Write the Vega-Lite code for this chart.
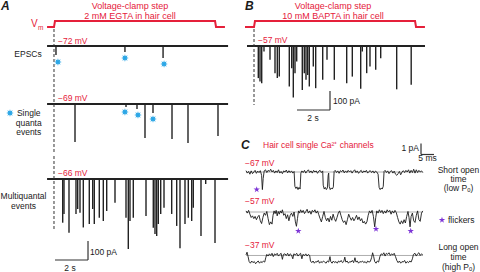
{
"$schema":"https://vega.github.io/schema/vega-lite/v6.json",
"padding":0,
"spacing":0,
"config":{"view":{"stroke":null},"axis":{"disable":true},"text":{"font":"Liberation Sans","baseline":"middle","fontSize":8.5,"color":"#1a1a1a"},"concat":{"spacing":0}},
"hconcat":[
{"spacing":0,"vconcat":[
{"width":240,"height":32,"layer":[
{"data":{"values":[{"t":-0.42,"v":0},{"t":0,"v":0},{"t":0.06,"v":1},{"t":9.76,"v":1},{"t":9.82,"v":0},{"t":10.36,"v":0}]},"mark":{"type":"line","color":"#e5203a","strokeWidth":2},"encoding":{"x":{"field":"t","type":"quantitative","scale":{"domain":[-3.2727,11.2727],"nice":false,"zero":false}},"y":{"field":"v","type":"quantitative","scale":{"domain":[-0.8333,4.5],"nice":false,"zero":false}}}},
{"data":{"values":[{"t":0,"v":-0.333,"v2":-0.8333}]},"mark":{"type":"rule","color":"#333333","strokeWidth":1,"strokeDash":[3,2]},"encoding":{"x":{"field":"t","type":"quantitative"},"y":{"field":"v","type":"quantitative"},"y2":{"field":"v2"}}},
{"data":{"values":[{"t":4.606,"v":3.5,"label":"Voltage-clamp step"},{"t":4.606,"v":1.833,"label":"2 mM EGTA in hair cell"}]},"mark":{"type":"text","color":"#e5203a","fontSize":9,"align":"center"},"encoding":{"x":{"field":"t","type":"quantitative"},"y":{"field":"v","type":"quantitative"},"text":{"field":"label"}}},
{"data":{"values":[{"t":-1.394,"v":0.5,"label":"V"}]},"mark":{"type":"text","color":"#e5203a","fontSize":10,"align":"left"},"encoding":{"x":{"field":"t","type":"quantitative"},"y":{"field":"v","type":"quantitative"},"text":{"field":"label"}}},
{"data":{"values":[{"t":-0.97,"v":-0.167,"label":"m"}]},"mark":{"type":"text","color":"#e5203a","fontSize":6.5,"align":"left"},"encoding":{"x":{"field":"t","type":"quantitative"},"y":{"field":"v","type":"quantitative"},"text":{"field":"label"}}},
{"data":{"values":[{"t":-3.212,"v":3.4167,"label":"A"}]},"mark":{"type":"text","fontSize":12,"fontWeight":"bold","fontStyle":"italic","align":"left"},"encoding":{"x":{"field":"t","type":"quantitative"},"y":{"field":"v","type":"quantitative"},"text":{"field":"label"}}}
]},
{"width":240,"height":48,"layer":[
{"data":{"values":[{"t":-0.42,"t2":10.55,"v":0}]},"mark":{"type":"rule","color":"#222222","strokeWidth":1.8},"encoding":{"x":{"field":"t","type":"quantitative","scale":{"domain":[-3.2727,11.2727],"nice":false,"zero":false}},"x2":{"field":"t2"},"y":{"field":"v","type":"quantitative","scale":{"domain":[-189.47,63.16],"nice":false,"zero":false}}}},
{"data":{"values":[{"t":0}]},"mark":{"type":"rule","color":"#333333","strokeWidth":1,"strokeDash":[3,2]},"encoding":{"x":{"field":"t","type":"quantitative"}}},
{"data":{"values":[{"t":0.12,"v":-47},{"t":4.3,"v":-32},{"t":6.61,"v":-63}]},"mark":{"type":"rule","color":"#222222","strokeWidth":1.4},"encoding":{"x":{"field":"t","type":"quantitative"},"y":{"field":"v","type":"quantitative"},"y2":{"datum":0}}},
{"data":{"values":[{"t":0.24,"v":-84.2},{"t":4.3,"v":-63.2},{"t":6.67,"v":-94.7}]},"mark":{"type":"point","shape":"M0,-1L0.191,-0.462L0.707,-0.707L0.462,-0.191L1,0L0.462,0.191L0.707,0.707L0.191,0.462L0,1L-0.191,0.462L-0.707,0.707L-0.462,0.191L-1,0L-0.462,-0.191L-0.707,-0.707L-0.191,-0.462Z","filled":true,"color":"#2aa6e6","size":56,"opacity":1},"encoding":{"x":{"field":"t","type":"quantitative"},"y":{"field":"v","type":"quantitative"}}},
{"data":{"values":[{"t":0.242,"v":26.3,"label":"−72 mV"}]},"mark":{"type":"text","color":"#e5203a","align":"left"},"encoding":{"x":{"field":"t","type":"quantitative"},"y":{"field":"v","type":"quantitative"},"text":{"field":"label"}}},
{"data":{"values":[{"t":-1.576,"v":-42.1,"label":"EPSCs"}]},"mark":{"type":"text","align":"center"},"encoding":{"x":{"field":"t","type":"quantitative"},"y":{"field":"v","type":"quantitative"},"text":{"field":"label"}}}
]},
{"width":240,"height":70,"layer":[
{"data":{"values":[{"t":-0.42,"t2":10.55,"v":0}]},"mark":{"type":"rule","color":"#222222","strokeWidth":1.8},"encoding":{"x":{"field":"t","type":"quantitative","scale":{"domain":[-3.2727,11.2727],"nice":false,"zero":false}},"x2":{"field":"t2"},"y":{"field":"v","type":"quantitative","scale":{"domain":[-263.16,105.26],"nice":false,"zero":false}}}},
{"data":{"values":[{"t":0}]},"mark":{"type":"rule","color":"#333333","strokeWidth":1,"strokeDash":[3,2]},"encoding":{"x":{"field":"t","type":"quantitative"}}},
{"data":{"values":[{"t":1.273,"v":-200},{"t":4.364,"v":-16},{"t":5.03,"v":-26},{"t":5.515,"v":-179},{"t":6.0,"v":-47},{"t":7.152,"v":-184},{"t":8.121,"v":-205},{"t":9.939,"v":-168}]},"mark":{"type":"rule","color":"#222222","strokeWidth":1.4},"encoding":{"x":{"field":"t","type":"quantitative"},"y":{"field":"v","type":"quantitative"},"y2":{"datum":0}}},
{"data":{"values":[{"t":4.3,"v":-42.1},{"t":5.09,"v":-57.9},{"t":6.0,"v":-78.9},{"t":-2.667,"v":-47.4}]},"mark":{"type":"point","shape":"M0,-1L0.191,-0.462L0.707,-0.707L0.462,-0.191L1,0L0.462,0.191L0.707,0.707L0.191,0.462L0,1L-0.191,0.462L-0.707,0.707L-0.462,0.191L-1,0L-0.462,-0.191L-0.707,-0.707L-0.191,-0.462Z","filled":true,"color":"#2aa6e6","size":56,"opacity":1},"encoding":{"x":{"field":"t","type":"quantitative"},"y":{"field":"v","type":"quantitative"}}},
{"data":{"values":[{"t":0.242,"v":31.6,"label":"−69 mV"}]},"mark":{"type":"text","color":"#e5203a","align":"left"},"encoding":{"x":{"field":"t","type":"quantitative"},"y":{"field":"v","type":"quantitative"},"text":{"field":"label"}}},
{"data":{"values":[{"t":-1.533,"v":-47.4,"label":"Single"},{"t":-1.533,"v":-97.4,"label":"quanta"},{"t":-1.533,"v":-147.4,"label":"events"}]},"mark":{"type":"text","align":"center"},"encoding":{"x":{"field":"t","type":"quantitative"},"y":{"field":"v","type":"quantitative"},"text":{"field":"label"}}}
]},
{"width":240,"height":122,"layer":[
{"data":{"values":[{"t":-0.42,"t2":10.55,"v":0}]},"mark":{"type":"rule","color":"#222222","strokeWidth":1.8},"encoding":{"x":{"field":"t","type":"quantitative","scale":{"domain":[-3.2727,11.2727],"nice":false,"zero":false}},"x2":{"field":"t2"},"y":{"field":"v","type":"quantitative","scale":{"domain":[-521.05,121.05],"nice":false,"zero":false}}}},
{"data":{"values":[{"t":0,"v":121.05,"v2":-268.4}]},"mark":{"type":"rule","color":"#333333","strokeWidth":1,"strokeDash":[3,2]},"encoding":{"x":{"field":"t","type":"quantitative"},"y":{"field":"v","type":"quantitative"},"y2":{"field":"v2"}}},
{"data":{"values":[{"t":0.527,"v":-230},{"t":0.606,"v":-184},{"t":0.909,"v":-283},{"t":1.333,"v":-184},{"t":1.436,"v":-158},{"t":1.576,"v":-177},{"t":1.776,"v":-255},{"t":2.139,"v":-237},{"t":2.345,"v":-158},{"t":2.442,"v":-237},{"t":2.745,"v":-204},{"t":2.988,"v":-221},{"t":3.194,"v":-168},{"t":3.697,"v":-125},{"t":4.364,"v":-204},{"t":4.503,"v":-368},{"t":4.606,"v":-221},{"t":4.806,"v":-204},{"t":5.576,"v":-195},{"t":6.018,"v":-256},{"t":6.121,"v":-289},{"t":6.224,"v":-300},{"t":6.321,"v":-237},{"t":6.467,"v":-184},{"t":6.667,"v":-151},{"t":7.133,"v":-184},{"t":7.436,"v":-247},{"t":7.636,"v":-365},{"t":7.939,"v":-237},{"t":8.139,"v":-204},{"t":8.345,"v":-221},{"t":8.442,"v":-151},{"t":8.909,"v":-300},{"t":9.194,"v":-26},{"t":9.758,"v":-337}]},"mark":{"type":"rule","color":"#222222","strokeWidth":1.4},"encoding":{"x":{"field":"t","type":"quantitative"},"y":{"field":"v","type":"quantitative"},"y2":{"datum":0}}},
{"data":{"values":[{"t":0.0606,"t2":2.061,"v":-426.3,"v2":-426.3},{"t":2.061,"t2":2.061,"v":-326.3,"v2":-426.3}]},"mark":{"type":"rule","color":"#333333","strokeWidth":1.2},"encoding":{"x":{"field":"t","type":"quantitative"},"x2":{"field":"t2"},"y":{"field":"v","type":"quantitative"},"y2":{"field":"v2"}}},
{"data":{"values":[{"t":0.242,"v":31.6,"label":"−66 mV"}]},"mark":{"type":"text","color":"#e5203a","align":"left"},"encoding":{"x":{"field":"t","type":"quantitative"},"y":{"field":"v","type":"quantitative"},"text":{"field":"label"}}},
{"data":{"values":[{"t":-1.848,"v":-91,"label":"Multiquantal"},{"t":-1.848,"v":-143.7,"label":"events"},{"t":0.97,"v":-468.4,"label":"2 s"}]},"mark":{"type":"text","align":"center"},"encoding":{"x":{"field":"t","type":"quantitative"},"y":{"field":"v","type":"quantitative"},"text":{"field":"label"}}},
{"data":{"values":[{"t":2.18,"v":-384.2,"label":"100 pA"}]},"mark":{"type":"text","align":"left"},"encoding":{"x":{"field":"t","type":"quantitative"},"y":{"field":"v","type":"quantitative"},"text":{"field":"label"}}}
]}
]},
{"spacing":0,"vconcat":[
{"width":240,"height":32,"layer":[
{"data":{"values":[{"t":-0.545,"v":0},{"t":0,"v":0},{"t":0.06,"v":1},{"t":9.76,"v":1},{"t":9.82,"v":0},{"t":10.36,"v":0}]},"mark":{"type":"line","color":"#e5203a","strokeWidth":2},"encoding":{"x":{"field":"t","type":"quantitative","scale":{"domain":[-0.8485,13.697],"nice":false,"zero":false}},"y":{"field":"v","type":"quantitative","scale":{"domain":[-0.8333,4.5],"nice":false,"zero":false}}}},
{"data":{"values":[{"t":0,"v":-0.333,"v2":-0.8333}]},"mark":{"type":"rule","color":"#333333","strokeWidth":1,"strokeDash":[3,2]},"encoding":{"x":{"field":"t","type":"quantitative"},"y":{"field":"v","type":"quantitative"},"y2":{"field":"v2"}}},
{"data":{"values":[{"t":4.788,"v":3.5,"label":"Voltage-clamp step"},{"t":4.788,"v":1.833,"label":"10 mM BAPTA in hair cell"}]},"mark":{"type":"text","color":"#e5203a","fontSize":9,"align":"center"},"encoding":{"x":{"field":"t","type":"quantitative"},"y":{"field":"v","type":"quantitative"},"text":{"field":"label"}}},
{"data":{"values":[{"t":-0.545,"v":3.4167,"label":"B"}]},"mark":{"type":"text","fontSize":12,"fontWeight":"bold","fontStyle":"italic","align":"left"},"encoding":{"x":{"field":"t","type":"quantitative"},"y":{"field":"v","type":"quantitative"},"text":{"field":"label"}}}
]},
{"width":240,"height":98,"layer":[
{"data":{"values":[{"t":-0.424,"t2":10.364,"v":0}]},"mark":{"type":"rule","color":"#222222","strokeWidth":1.8},"encoding":{"x":{"field":"t","type":"quantitative","scale":{"domain":[-0.8485,13.697],"nice":false,"zero":false}},"x2":{"field":"t2"},"y":{"field":"v","type":"quantitative","scale":{"domain":[-452.6,63.16],"nice":false,"zero":false}}}},
{"data":{"values":[{"t":0,"v":63.16,"v2":-310.5}]},"mark":{"type":"rule","color":"#333333","strokeWidth":1,"strokeDash":[3,2]},"encoding":{"x":{"field":"t","type":"quantitative"},"y":{"field":"v","type":"quantitative"},"y2":{"field":"v2"}}},
{"data":{"values":[{"t":0.261,"v":-169},{"t":0.364,"v":-187},{"t":0.467,"v":-196},{"t":0.606,"v":-29},{"t":0.97,"v":-73},{"t":1.273,"v":-143},{"t":1.412,"v":-169},{"t":1.533,"v":-161},{"t":2.139,"v":-213},{"t":2.285,"v":-117},{"t":2.382,"v":-271},{"t":2.485,"v":-143},{"t":2.588,"v":-82},{"t":2.927,"v":-231},{"t":3.048,"v":-143},{"t":3.152,"v":-178},{"t":3.255,"v":-152},{"t":3.352,"v":-213},{"t":3.594,"v":-108},{"t":3.739,"v":-222},{"t":4.164,"v":-178},{"t":4.424,"v":-73},{"t":4.867,"v":-178},{"t":5.618,"v":-196},{"t":5.958,"v":-161},{"t":6.467,"v":-225},{"t":6.564,"v":-29},{"t":6.83,"v":-143},{"t":7.03,"v":-108},{"t":7.376,"v":-125},{"t":7.679,"v":-64},{"t":8.648,"v":-228},{"t":9.527,"v":-204}]},"mark":{"type":"rule","color":"#222222","strokeWidth":1.4},"encoding":{"x":{"field":"t","type":"quantitative"},"y":{"field":"v","type":"quantitative"},"y2":{"datum":0}}},
{"data":{"values":[{"t":2.606,"t2":4.606,"v":-336.8,"v2":-336.8},{"t":4.606,"t2":4.606,"v":-236.8,"v2":-336.8}]},"mark":{"type":"rule","color":"#333333","strokeWidth":1.2},"encoding":{"x":{"field":"t","type":"quantitative"},"x2":{"field":"t2"},"y":{"field":"v","type":"quantitative"},"y2":{"field":"v2"}}},
{"data":{"values":[{"t":0.242,"v":31.6,"label":"−57 mV"}]},"mark":{"type":"text","color":"#e5203a","align":"left"},"encoding":{"x":{"field":"t","type":"quantitative"},"y":{"field":"v","type":"quantitative"},"text":{"field":"label"}}},
{"data":{"values":[{"t":3.576,"v":-378.9,"label":"2 s"}]},"mark":{"type":"text","align":"center"},"encoding":{"x":{"field":"t","type":"quantitative"},"y":{"field":"v","type":"quantitative"},"text":{"field":"label"}}},
{"data":{"values":[{"t":4.79,"v":-289.5,"label":"100 pA"}]},"mark":{"type":"text","align":"left"},"encoding":{"x":{"field":"t","type":"quantitative"},"y":{"field":"v","type":"quantitative"},"text":{"field":"label"}}}
]},
{"width":240,"height":62,"layer":[
{"data":{"values":[{"t":0,"t2":68,"v":0}]},"mark":{"type":"rule","color":"#9a9a9a","strokeWidth":0.8},"encoding":{"x":{"field":"t","type":"quantitative","scale":{"domain":[-2.3077,90],"nice":false,"zero":false}},"x2":{"field":"t2"},"y":{"field":"v","type":"quantitative","scale":{"domain":[-2.0,3.6364],"nice":false,"zero":false}}}},
{"data":{"values":[{"t":0,"v":0.12},{"t":0.5,"v":-0.1},{"t":1,"v":0.05},{"t":1.5,"v":-0.2},{"t":2,"v":0.1},{"t":2.5,"v":-0.15},{"t":3,"v":0},{"t":3.5,"v":0.15},{"t":4,"v":-0.12},{"t":4.5,"v":0.08},{"t":5,"v":-0.05},{"t":5.5,"v":0.12},{"t":6,"v":-0.3},{"t":6.3,"v":-1.6},{"t":6.6,"v":-0.6},{"t":7,"v":0.1},{"t":7.5,"v":0.2},{"t":8,"v":-0.05},{"t":8.5,"v":0.15},{"t":9,"v":0.05},{"t":9.5,"v":0.25},{"t":10,"v":0},{"t":10.5,"v":0.15},{"t":11,"v":-0.1},{"t":11.5,"v":0.1},{"t":12,"v":-0.05},{"t":12.5,"v":0.2},{"t":13,"v":-0.1},{"t":13.5,"v":0.05},{"t":14,"v":-0.15},{"t":14.5,"v":0.1},{"t":15,"v":0},{"t":15.5,"v":0.18},{"t":16,"v":-0.08},{"t":16.5,"v":0.12},{"t":17,"v":-0.05},{"t":17.5,"v":0.1},{"t":18,"v":-0.1},{"t":18.5,"v":0.05},{"t":18.8,"v":-1.3},{"t":19.2,"v":-1.5},{"t":19.6,"v":-1.35},{"t":20,"v":-1.6},{"t":20.4,"v":-1.4},{"t":20.8,"v":-1.55},{"t":21.1,"v":-0.1},{"t":21.5,"v":0.1},{"t":22,"v":-0.05},{"t":22.5,"v":0.15},{"t":23,"v":-0.1},{"t":23.5,"v":0.08},{"t":24,"v":0.2},{"t":24.5,"v":-0.05},{"t":25,"v":0.1},{"t":25.5,"v":-0.1},{"t":26,"v":0.15},{"t":26.5,"v":0},{"t":27,"v":0.1},{"t":27.5,"v":-0.12},{"t":28,"v":0.08},{"t":28.5,"v":0.15},{"t":29,"v":-0.05},{"t":29.5,"v":0.1},{"t":29.7,"v":-1.2},{"t":30.1,"v":-1.55},{"t":30.5,"v":-1.4},{"t":30.9,"v":-1.6},{"t":31.3,"v":-1.45},{"t":31.6,"v":-0.3},{"t":31.8,"v":-0.1},{"t":32,"v":-1.3},{"t":32.4,"v":-1.6},{"t":32.8,"v":-1.45},{"t":33.2,"v":-1.55},{"t":33.6,"v":-1.35},{"t":33.9,"v":0.05},{"t":34.3,"v":0.15},{"t":34.8,"v":-0.05},{"t":35.3,"v":0.1},{"t":35.8,"v":-0.12},{"t":36.3,"v":0.12},{"t":36.8,"v":0.02},{"t":37.3,"v":0.18},{"t":37.8,"v":-0.08},{"t":38.3,"v":0.1},{"t":38.8,"v":-0.05},{"t":39.3,"v":0.15},{"t":39.8,"v":0},{"t":40.3,"v":0.12},{"t":40.8,"v":-0.1},{"t":41.3,"v":0.08},{"t":41.8,"v":0.2},{"t":42.3,"v":-0.05},{"t":42.8,"v":0.1},{"t":43.3,"v":-0.12},{"t":43.8,"v":0.05},{"t":44.3,"v":0.15},{"t":44.8,"v":-0.08},{"t":45.3,"v":0.1},{"t":45.8,"v":0},{"t":46.3,"v":0.15},{"t":46.8,"v":-0.1},{"t":47.3,"v":0.05},{"t":47.8,"v":0.12},{"t":48.3,"v":-0.05},{"t":48.8,"v":0.1},{"t":49.3,"v":-0.1},{"t":49.8,"v":0.08},{"t":50.3,"v":0},{"t":50.8,"v":-0.2},{"t":51.2,"v":-1.4},{"t":51.6,"v":-1.6},{"t":52,"v":-1.45},{"t":52.4,"v":-1.55},{"t":52.8,"v":-1.3},{"t":53.1,"v":0.05},{"t":53.5,"v":0.15},{"t":54,"v":-0.05},{"t":54.5,"v":0.1},{"t":55,"v":-0.15},{"t":55.5,"v":0.05},{"t":56,"v":0.12},{"t":56.5,"v":-0.1},{"t":57,"v":0.08},{"t":57.5,"v":-0.2},{"t":58,"v":-0.3},{"t":58.5,"v":-0.15},{"t":59,"v":0.05},{"t":59.5,"v":-0.25},{"t":60,"v":0},{"t":60.5,"v":0.12},{"t":61,"v":-0.05},{"t":61.5,"v":0.15},{"t":62,"v":0},{"t":62.5,"v":0.2},{"t":63,"v":-0.1},{"t":63.5,"v":0.15},{"t":64,"v":-0.05},{"t":64.5,"v":0.25},{"t":65,"v":-0.1},{"t":65.5,"v":0.2},{"t":66,"v":-0.05},{"t":66.5,"v":0.15},{"t":67,"v":0},{"t":67.5,"v":0.1},{"t":68,"v":-0.05}]},"mark":{"type":"line","color":"#1a1a1a","strokeWidth":0.9},"encoding":{"x":{"field":"t","type":"quantitative"},"y":{"field":"v","type":"quantitative"}}},
{"data":{"values":[{"t":67.31,"t2":72.31,"v":1.591,"v2":1.591},{"t":67.31,"t2":67.31,"v":2.591,"v2":1.591}]},"mark":{"type":"rule","color":"#333333","strokeWidth":1.2},"encoding":{"x":{"field":"t","type":"quantitative"},"x2":{"field":"t2"},"y":{"field":"v","type":"quantitative"},"y2":{"field":"v2"}}},
{"data":{"values":[{"t":4.115,"v":-1.591}]},"mark":{"type":"point","shape":"M0,-1L0.2245,-0.309L0.9511,-0.309L0.3633,0.118L0.5878,0.809L0,0.382L-0.5878,0.809L-0.3633,0.118L-0.9511,-0.309L-0.2245,-0.309Z","filled":true,"color":"#7d35d6","size":45,"opacity":1},"encoding":{"x":{"field":"t","type":"quantitative"},"y":{"field":"v","type":"quantitative"}}},
{"data":{"values":[{"t":-1.923,"v":2.4545,"label":"C"}]},"mark":{"type":"text","fontSize":12,"fontWeight":"bold","fontStyle":"italic","align":"left"},"encoding":{"x":{"field":"t","type":"quantitative"},"y":{"field":"v","type":"quantitative"},"text":{"field":"label"}}},
{"data":{"values":[{"t":6.538,"v":2.4545,"label":"Hair cell single Ca²⁺ channels"},{"t":-0.385,"v":0.818,"label":"−67 mV"}]},"mark":{"type":"text","color":"#e5203a","align":"left"},"encoding":{"x":{"field":"t","type":"quantitative"},"y":{"field":"v","type":"quantitative"},"text":{"field":"label"}}},
{"data":{"values":[{"t":66.54,"v":2.1818,"label":"1 pA"}]},"mark":{"type":"text","align":"right"},"encoding":{"x":{"field":"t","type":"quantitative"},"y":{"field":"v","type":"quantitative"},"text":{"field":"label"}}},
{"data":{"values":[{"t":69.81,"v":1.318,"label":"5 ms"},{"t":81.73,"v":0.227,"label":"Short open"},{"t":81.73,"v":-0.636,"label":"time"},{"t":81.73,"v":-1.4545,"label":"(low Pₒ)"}]},"mark":{"type":"text","align":"center"},"encoding":{"x":{"field":"t","type":"quantitative"},"y":{"field":"v","type":"quantitative"},"text":{"field":"label"}}}
]},
{"width":240,"height":42,"layer":[
{"data":{"values":[{"t":0,"t2":68,"v":0}]},"mark":{"type":"rule","color":"#9a9a9a","strokeWidth":0.8},"encoding":{"x":{"field":"t","type":"quantitative","scale":{"domain":[-2.3077,90],"nice":false,"zero":false}},"x2":{"field":"t2"},"y":{"field":"v","type":"quantitative","scale":{"domain":[-2.1818,1.6364],"nice":false,"zero":false}}}},
{"data":{"values":[{"t":0,"v":0.1},{"t":0.5,"v":-0.1},{"t":1,"v":0.15},{"t":1.5,"v":-0.2},{"t":2,"v":-0.5},{"t":2.5,"v":-0.35},{"t":3,"v":-0.6},{"t":3.5,"v":-0.4},{"t":4,"v":-0.7},{"t":4.5,"v":-0.45},{"t":5,"v":-0.3},{"t":5.5,"v":-0.8},{"t":6,"v":-1.05},{"t":6.5,"v":-0.5},{"t":7,"v":-0.1},{"t":7.5,"v":-0.3},{"t":8,"v":0.05},{"t":8.5,"v":-0.6},{"t":9,"v":-1.15},{"t":9.5,"v":-0.9},{"t":10,"v":-1.1},{"t":10.4,"v":-0.3},{"t":10.8,"v":0.1},{"t":11.2,"v":-0.15},{"t":11.6,"v":0.15},{"t":12,"v":-0.35},{"t":12.4,"v":0.05},{"t":12.8,"v":-0.2},{"t":13.2,"v":0.1},{"t":13.6,"v":-0.1},{"t":14,"v":0.2},{"t":14.5,"v":-0.3},{"t":15,"v":-0.15},{"t":15.5,"v":-0.6},{"t":16,"v":-0.25},{"t":16.5,"v":-0.8},{"t":17,"v":-0.3},{"t":17.5,"v":-0.1},{"t":18,"v":-0.4},{"t":18.5,"v":0},{"t":19,"v":-0.9},{"t":19.4,"v":-1.3},{"t":19.8,"v":-0.6},{"t":20.2,"v":0.1},{"t":20.6,"v":-0.1},{"t":21,"v":0.2},{"t":21.5,"v":-0.05},{"t":22,"v":0.15},{"t":22.5,"v":-0.15},{"t":23,"v":0.05},{"t":23.5,"v":0.25},{"t":24,"v":-0.1},{"t":24.5,"v":0.1},{"t":25,"v":-0.2},{"t":25.5,"v":0.15},{"t":26,"v":0},{"t":26.5,"v":0.2},{"t":27,"v":-0.1},{"t":27.5,"v":0.1},{"t":28,"v":-0.25},{"t":28.5,"v":-0.6},{"t":29,"v":-0.9},{"t":29.5,"v":-0.4},{"t":30,"v":0.05},{"t":30.5,"v":-0.5},{"t":31,"v":-0.8},{"t":31.5,"v":-0.55},{"t":32,"v":-0.9},{"t":32.5,"v":-0.4},{"t":33,"v":-0.75},{"t":33.5,"v":-0.2},{"t":34,"v":-0.6},{"t":34.5,"v":-0.85},{"t":35,"v":-0.5},{"t":35.5,"v":-0.1},{"t":36,"v":0.1},{"t":36.5,"v":-0.3},{"t":37,"v":-0.7},{"t":37.5,"v":-0.95},{"t":38,"v":-0.8},{"t":38.5,"v":-1.15},{"t":39,"v":-0.7},{"t":39.5,"v":-0.2},{"t":40,"v":-0.5},{"t":40.5,"v":-0.75},{"t":41,"v":-0.5},{"t":41.5,"v":-0.8},{"t":42,"v":-0.6},{"t":42.5,"v":-0.3},{"t":43,"v":-0.7},{"t":43.5,"v":-0.45},{"t":44,"v":-0.8},{"t":44.5,"v":-0.6},{"t":45,"v":-1.0},{"t":45.5,"v":-0.85},{"t":46,"v":-1.1},{"t":46.5,"v":-0.9},{"t":47,"v":-0.3},{"t":47.5,"v":0.1},{"t":48,"v":-0.1},{"t":48.5,"v":0.15},{"t":49,"v":-0.4},{"t":49.5,"v":-1.35},{"t":49.9,"v":-0.5},{"t":50.3,"v":0.1},{"t":50.8,"v":-0.1},{"t":51.3,"v":0.2},{"t":51.8,"v":-0.05},{"t":52.3,"v":0.15},{"t":52.8,"v":-0.15},{"t":53.3,"v":0.1},{"t":53.8,"v":-0.1},{"t":54.3,"v":0.2},{"t":54.8,"v":0},{"t":55.3,"v":0.15},{"t":55.8,"v":-0.2},{"t":56.3,"v":0.1},{"t":56.8,"v":-0.1},{"t":57.3,"v":0.15},{"t":57.8,"v":-0.05},{"t":58.3,"v":-0.5},{"t":58.8,"v":-0.9},{"t":59.3,"v":-1.1},{"t":59.8,"v":-0.8},{"t":60.3,"v":-1.05},{"t":60.8,"v":-0.7},{"t":61.3,"v":-1.0},{"t":61.8,"v":-0.4},{"t":62.3,"v":0.05},{"t":62.7,"v":-0.5},{"t":63.1,"v":-1.35},{"t":63.5,"v":-0.4},{"t":64,"v":-0.1},{"t":64.5,"v":-0.8},{"t":65,"v":-0.95},{"t":65.5,"v":-0.3},{"t":66,"v":0.1},{"t":66.5,"v":-0.7},{"t":67,"v":-0.85},{"t":67.5,"v":-0.1},{"t":68,"v":0.1}]},"mark":{"type":"line","color":"#1a1a1a","strokeWidth":0.9},"encoding":{"x":{"field":"t","type":"quantitative"},"y":{"field":"v","type":"quantitative"}}},
{"data":{"values":[{"t":20.12,"v":-1.727},{"t":50,"v":-1.545},{"t":63.35,"v":-1.727},{"t":75.38,"v":-0.727}]},"mark":{"type":"point","shape":"M0,-1L0.2245,-0.309L0.9511,-0.309L0.3633,0.118L0.5878,0.809L0,0.382L-0.5878,0.809L-0.3633,0.118L-0.9511,-0.309L-0.2245,-0.309Z","filled":true,"color":"#7d35d6","size":45,"opacity":1},"encoding":{"x":{"field":"t","type":"quantitative"},"y":{"field":"v","type":"quantitative"}}},
{"data":{"values":[{"t":-0.385,"v":1.045,"label":"−57 mV"}]},"mark":{"type":"text","color":"#e5203a","align":"left"},"encoding":{"x":{"field":"t","type":"quantitative"},"y":{"field":"v","type":"quantitative"},"text":{"field":"label"}}},
{"data":{"values":[{"t":77.69,"v":-0.727,"label":"flickers"}]},"mark":{"type":"text","align":"left"},"encoding":{"x":{"field":"t","type":"quantitative"},"y":{"field":"v","type":"quantitative"},"text":{"field":"label"}}}
]},
{"width":240,"height":38,"layer":[
{"data":{"values":[{"t":0,"t2":68,"v":0}]},"mark":{"type":"rule","color":"#9a9a9a","strokeWidth":0.8},"encoding":{"x":{"field":"t","type":"quantitative","scale":{"domain":[-2.3077,90],"nice":false,"zero":false}},"x2":{"field":"t2"},"y":{"field":"v","type":"quantitative","scale":{"domain":[-1.6818,1.7727],"nice":false,"zero":false}}}},
{"data":{"values":[{"t":0,"v":0.05},{"t":0.4,"v":0.3},{"t":0.8,"v":-0.1},{"t":1.2,"v":-0.55},{"t":1.7,"v":-0.7},{"t":2.2,"v":-0.5},{"t":2.7,"v":-0.65},{"t":3.2,"v":-0.55},{"t":3.7,"v":-0.75},{"t":4.2,"v":-0.6},{"t":4.7,"v":-0.5},{"t":5.2,"v":-0.7},{"t":5.7,"v":-0.55},{"t":6.2,"v":-0.65},{"t":6.7,"v":-0.5},{"t":7.2,"v":-0.6},{"t":7.6,"v":-0.2},{"t":8,"v":0.1},{"t":8.5,"v":-0.05},{"t":9,"v":0.15},{"t":9.5,"v":0},{"t":10,"v":0.2},{"t":10.5,"v":-0.1},{"t":11,"v":0.15},{"t":11.5,"v":0.05},{"t":12,"v":0.2},{"t":12.5,"v":-0.05},{"t":13,"v":0.1},{"t":13.5,"v":0.2},{"t":14,"v":-0.35},{"t":14.4,"v":0.1},{"t":15,"v":0.15},{"t":15.5,"v":0},{"t":16,"v":0.2},{"t":16.5,"v":-0.05},{"t":17,"v":0.15},{"t":17.5,"v":0.05},{"t":18,"v":-0.3},{"t":18.4,"v":0.15},{"t":19,"v":0.05},{"t":19.5,"v":0.2},{"t":20,"v":-0.05},{"t":20.5,"v":0.1},{"t":21,"v":0.2},{"t":21.5,"v":-0.3},{"t":21.9,"v":0.1},{"t":22.5,"v":0},{"t":23,"v":0.15},{"t":23.5,"v":-0.05},{"t":24,"v":0.1},{"t":24.5,"v":0},{"t":24.8,"v":-0.5},{"t":25.3,"v":-0.65},{"t":25.8,"v":-0.5},{"t":26.3,"v":-0.7},{"t":26.8,"v":-0.55},{"t":27.3,"v":-0.6},{"t":27.8,"v":-0.45},{"t":28.3,"v":-0.7},{"t":28.8,"v":-0.55},{"t":29.3,"v":-0.65},{"t":29.8,"v":-0.5},{"t":30.3,"v":-0.6},{"t":30.8,"v":-0.7},{"t":31.3,"v":-0.5},{"t":31.8,"v":-0.6},{"t":32.3,"v":-0.1},{"t":32.6,"v":-0.55},{"t":33.1,"v":-0.7},{"t":33.6,"v":-0.5},{"t":34.1,"v":-0.65},{"t":34.6,"v":-0.55},{"t":35.1,"v":-0.7},{"t":35.6,"v":-0.5},{"t":36.1,"v":-0.6},{"t":36.6,"v":-0.45},{"t":37.1,"v":-0.65},{"t":37.6,"v":-0.55},{"t":38,"v":-0.15},{"t":38.4,"v":-0.6},{"t":38.9,"v":-0.5},{"t":39.4,"v":-0.7},{"t":39.9,"v":-0.55},{"t":40.4,"v":-0.6},{"t":40.9,"v":-0.45},{"t":41.4,"v":-0.65},{"t":41.9,"v":-0.2},{"t":42.3,"v":-0.6},{"t":42.8,"v":-0.5},{"t":43.3,"v":-0.7},{"t":43.8,"v":-0.55},{"t":44.3,"v":-0.6},{"t":44.8,"v":-0.5},{"t":45.3,"v":-0.65},{"t":45.8,"v":-0.55},{"t":46.3,"v":-0.7},{"t":46.8,"v":-0.5},{"t":47.3,"v":-0.6},{"t":47.8,"v":-0.55},{"t":48.3,"v":-0.2},{"t":48.7,"v":0.25},{"t":49.1,"v":-0.1},{"t":49.5,"v":-0.55},{"t":50,"v":-0.7},{"t":50.5,"v":-0.5},{"t":51,"v":-0.6},{"t":51.5,"v":-0.1},{"t":52,"v":0.15},{"t":52.5,"v":0.05},{"t":53,"v":0.25},{"t":53.5,"v":-0.05},{"t":54,"v":0.2},{"t":54.5,"v":0.1},{"t":55,"v":0.25},{"t":55.5,"v":0},{"t":56,"v":0.15},{"t":56.5,"v":0.05},{"t":57,"v":0.2},{"t":57.5,"v":-0.1},{"t":58,"v":-0.45},{"t":58.5,"v":-0.65},{"t":59,"v":-0.5},{"t":59.5,"v":-0.7},{"t":60,"v":-0.55},{"t":60.5,"v":-0.6},{"t":61,"v":-0.45},{"t":61.5,"v":-0.7},{"t":62,"v":-0.55},{"t":62.5,"v":-0.65},{"t":63,"v":-0.5},{"t":63.5,"v":-0.6},{"t":64,"v":-0.3},{"t":64.4,"v":0.1},{"t":65,"v":0.2},{"t":65.5,"v":-0.05},{"t":66,"v":0.15},{"t":66.5,"v":0.25},{"t":67,"v":0},{"t":67.5,"v":0.15},{"t":68,"v":0.05}]},"mark":{"type":"line","color":"#1a1a1a","strokeWidth":0.9},"encoding":{"x":{"field":"t","type":"quantitative"},"y":{"field":"v","type":"quantitative"}}},
{"data":{"values":[{"t":-0.385,"v":0.9545,"label":"−37 mV"}]},"mark":{"type":"text","color":"#e5203a","align":"left"},"encoding":{"x":{"field":"t","type":"quantitative"},"y":{"field":"v","type":"quantitative"},"text":{"field":"label"}}},
{"data":{"values":[{"t":81.73,"v":0.773,"label":"Long open"},{"t":81.73,"v":-0.136,"label":"time"},{"t":81.73,"v":-1.0,"label":"(high Pₒ)"}]},"mark":{"type":"text","align":"center"},"encoding":{"x":{"field":"t","type":"quantitative"},"y":{"field":"v","type":"quantitative"},"text":{"field":"label"}}}
]}
]}
]
}
